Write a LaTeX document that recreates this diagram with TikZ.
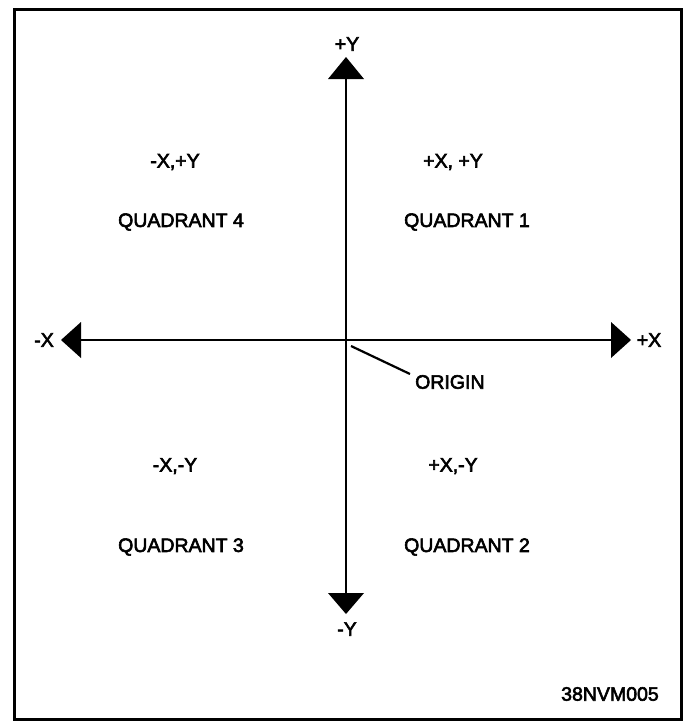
\documentclass[tikz,border=0pt]{standalone}
\usepackage{fontspec}
\setmainfont{Liberation Sans}
\newfontfamily\lblfont{Liberation Sans}[FakeBold=3]
\begin{document}
\begin{tikzpicture}[x=1pt,y=-1pt,
  lbl/.style={font=\lblfont\fontsize{19.5}{22}\selectfont, inner sep=0pt},
  axis/.style={line width=2.8pt},
  head/.style={fill=black}]
\useasboundingbox (0,0) rectangle (686,723);
\draw[line width=3pt] (14,9) rectangle (681,719);
% axes
\coordinate (top) at (346,78);
\coordinate (bot) at (346,594);
\coordinate (lft) at (80,340);
\coordinate (rgt) at (612,340);
\draw[axis] (top) -- (bot);
\draw[axis] (lft) -- (rgt);
% arrowheads
\fill[head] (328,79) -- (346,57) -- (364,79) -- cycle;
\fill[head] (328,593) -- (346,614) -- (364,593) -- cycle;
\fill[head] (81,322) -- (61,340) -- (81,358) -- cycle;
\fill[head] (611,322) -- (631,340) -- (611,358) -- cycle;
% labels
\node[lbl] (py) at (347,44) {+Y};
\node[lbl] (my) at (347,629) {-Y};
\node[lbl] (mx) at (44,340) {-X};
\node[lbl] (px) at (649,340) {+X};
\node[lbl,anchor=west] (origin) at (415,382) {ORIGIN};
\coordinate (o) at (351,346);
\draw[line width=2.2pt] (o) -- (410,374);
\node[lbl] (q4a) at (175,162) {-X,+Y};
\node[lbl] (q4b) at (181,222) {QUADRANT 4};
\node[lbl] (q1a) at (453,162) {+X, +Y};
\node[lbl] (q1b) at (467,222) {QUADRANT 1};
\node[lbl] (q3a) at (175,466) {-X,-Y};
\node[lbl] (q3b) at (181,547) {QUADRANT 3};
\node[lbl] (q2a) at (453,466) {+X,-Y};
\node[lbl] (q2b) at (467,547) {QUADRANT 2};
\node[lbl] (code) at (610,694) {38NVM005};
\end{tikzpicture}
\end{document}
